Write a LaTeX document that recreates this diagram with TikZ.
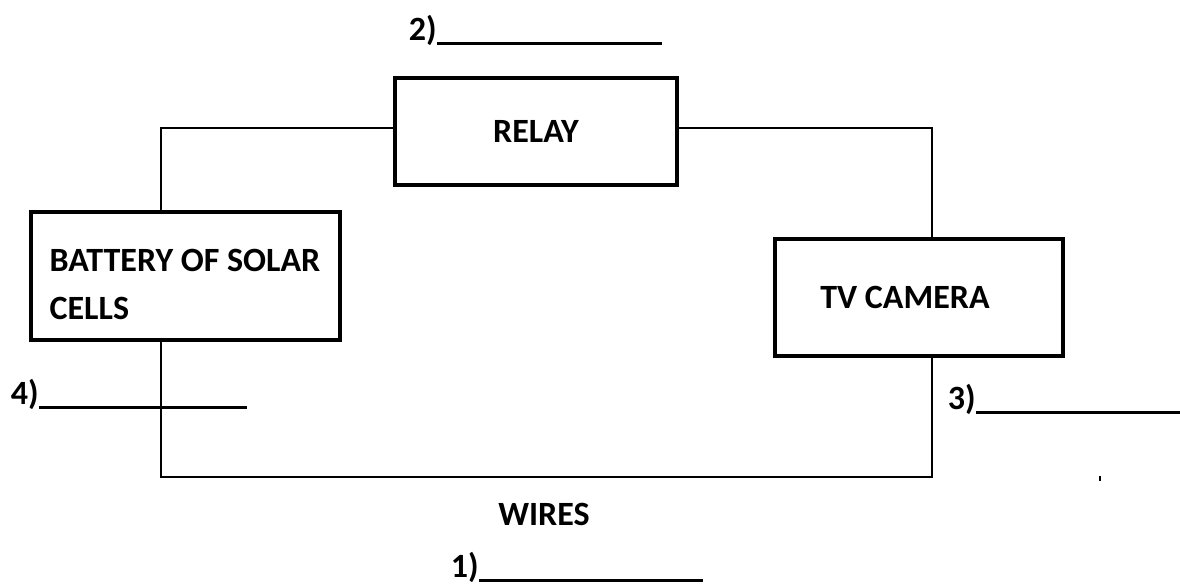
\documentclass[tikz,border=0pt]{standalone}
\usepackage{fontspec}
\setmainfont{Carlito}
\begin{document}
\begin{tikzpicture}[x=0.75pt, y=-0.75pt,
    box/.style={draw, line width=3pt, font=\fontsize{25.5}{36}\selectfont\bfseries},
    wire/.style={line width=1pt},
    lbl/.style={font=\fontsize{25.5}{30}\selectfont\bfseries, inner sep=0pt},
    uline/.style={line width=2pt}]
  \useasboundingbox (0,0) rectangle (1180,586);
  % Bloques
  \node[box, minimum width=211.5pt, minimum height=80.25pt] (relay) at (536,131) {RELAY};
  \node[box, minimum width=231.75pt, minimum height=96pt, align=left] (battery) at (185,276)
      {\rule{0pt}{30pt}BATTERY OF SOLAR\\CELLS};
  \node[box, minimum width=216pt, minimum height=87.75pt] (tv) at (919,297)
      {TV CAMERA\rule{21pt}{0pt}};
  % Cables
  \coordinate (tl) at (161,128);
  \coordinate (tr) at (932,128);
  \coordinate (bl) at (161,477);
  \coordinate (br) at (932,477);
  \draw[wire] (relay.west |- tl) -- (tl) -- (tl |- battery.north);
  \draw[wire] (relay.east |- tr) -- (tr) -- (tr |- tv.north);
  \draw[wire] (tl |- battery.south) -- (bl) -- (br) -- (br |- tv.south);
  \node[lbl] (wires) at (544,514) {WIRES};
  % Huecos numerados
  \node[lbl, anchor=base east] (n2) at (437,40) {2)};
  \draw[uline] ([yshift=-2.5pt]n2.base east) -- ++(225,0);
  \node[lbl, anchor=base east] (n4) at (39,404) {4)};
  \draw[uline] ([yshift=-2.5pt]n4.base east) -- ++(208,0);
  \node[lbl, anchor=base east] (n3) at (976,409) {3)};
  \draw[uline] ([yshift=-2.5pt]n3.base east) -- ++(204,0);
  \node[lbl, anchor=base east] (n1) at (479,577) {1)};
  \draw[uline] ([yshift=-2.5pt]n1.base east) -- ++(224,0);
  % Marca suelta
  \draw[line width=1pt] (1100,476) -- (1100,481);
\end{tikzpicture}
\end{document}
